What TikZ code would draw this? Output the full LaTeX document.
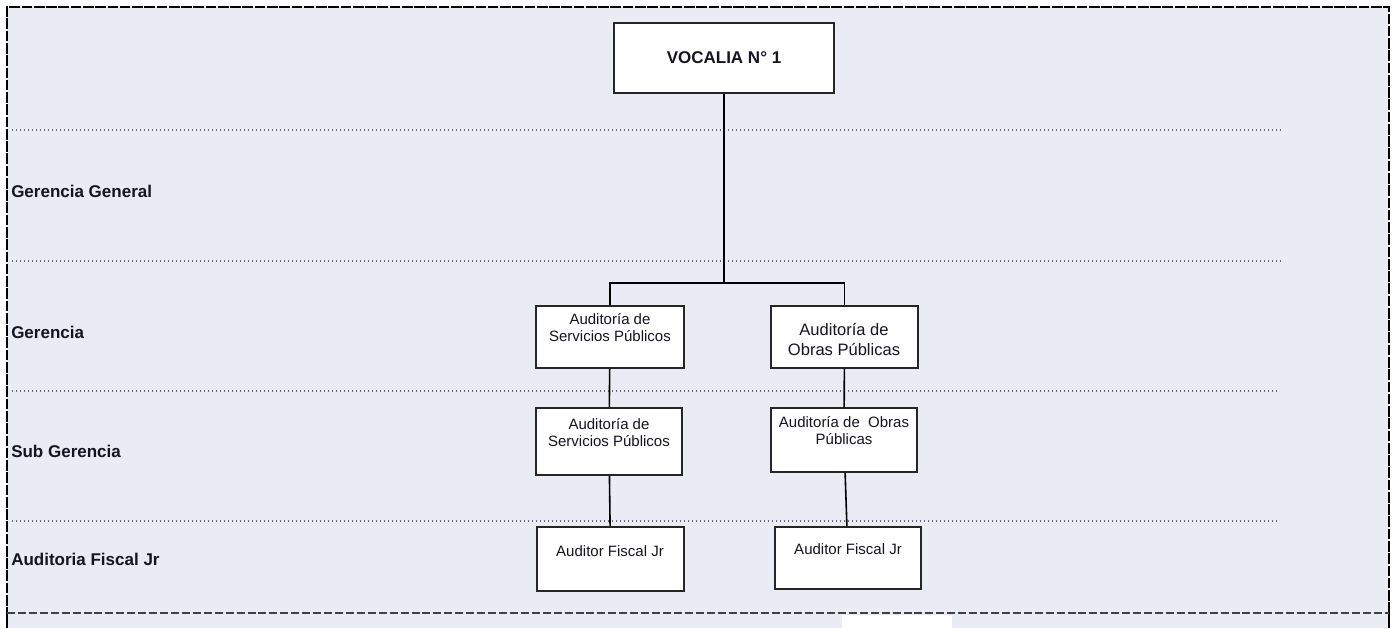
\documentclass[tikz,border=0pt]{standalone}
\usepackage{fontspec}
\setmainfont{Liberation Sans}
\usetikzlibrary{calc}
\definecolor{lav}{RGB}{233,235,245}
\definecolor{dotgray}{RGB}{100,100,125}
\definecolor{ink}{RGB}{20,20,35}
\newcommand{\lvfont}{\fontsize{12.75}{15}\selectfont\bfseries}
\newcommand{\bxfont}{\fontsize{11.25}{12.75}\selectfont}
\newcommand{\bgfont}{\fontsize{12.4}{15}\selectfont}

\begin{document}
\begin{tikzpicture}[x=0.75pt,y=-0.75pt,
      box/.style={draw=black!85,fill=white,line width=1.2pt,inner sep=0pt},
      txt/.style={inner sep=0pt,align=center,text=ink,font=\bxfont},
      level/.style={anchor=west,inner sep=0pt,text=ink,font=\lvfont},
      sep/.style={dotgray,line width=1.1pt,dash pattern=on 1.1pt off 1.9pt},
      link/.style={black,line width=1.2pt}]
      \useasboundingbox (0,0) rectangle (1395,628);
      \fill[lav] (7,7) rectangle (1389,628);
      \fill[white] (842,615) rectangle (952,628);
      \draw[line width=2.2pt,dash pattern=on 8pt off 1.2pt] (1389,613) -- (1389,7) -- (7,7) -- (7,613);
      \draw[line width=0.9pt] (7,613) -- (7,628) (1389,613) -- (1389,628);
      \draw[black!75,line width=1.6pt,dash pattern=on 6pt off 2.2pt] (7,613) -- (1389,613);

      \draw[sep] (12,130) -- (1283,130);
      \draw[sep] (12,261) -- (1283,261);
      \draw[sep] (12,391) -- (1277,391);
      \draw[sep] (12,521) -- (1277,521);

      \node[level] (l_1) at (11,191) {Gerencia General};
      \node[level] (l_2) at (11,332) {Gerencia};
      \node[level] (l_3) at (11,451) {Sub Gerencia};
      \node[level] (l_4) at (11,559) {Auditoria Fiscal Jr};

      \node[box,minimum width=165pt,minimum height=52.5pt] (voc) at (724,58) {};
      \node[box,minimum width=111pt,minimum height=46.5pt] (g_1) at (610,337) {};
      \node[box,minimum width=110.25pt,minimum height=46.5pt] (g_2) at (844.5,337) {};
      \node[box,minimum width=109.5pt,minimum height=50.25pt] (s_1) at (609,441.5) {};
      \node[box,minimum width=109.5pt,minimum height=48pt] (s_2) at (844,440) {};
      \node[box,minimum width=110.25pt,minimum height=48pt] (f_1) at (610.5,559) {};
      \node[box,minimum width=109.5pt,minimum height=46.5pt] (f_2) at (848,558) {};

      \node[txt,font=\lvfont] (voc_t) at (724,58) {VOCALIA N° 1};
      \node[txt] (g_1t) at (610,328) {Auditoría de\\Servicios Públicos};
      \node[txt,font=\bgfont] (g_2t) at (844,339) {Auditoría de\\Obras Públicas};
      \node[txt] (s_1t) at (609,433) {Auditoría de\\Servicios Públicos};
      \node[txt] (s_2t) at (844,431) {Auditoría de~~Obras\\Públicas};
      \node[txt] (f_1t) at (610,551) {Auditor Fiscal Jr};
      \node[txt] (f_2t) at (848,549) {Auditor Fiscal Jr};

      \coordinate (bar) at (724,283);
      \draw[link] (voc) -- (bar);
      \draw[link] (g_1) |- (bar) -| (g_2);
      \path[link]
      (g_1) edge (s_1)
      (g_2) edge (s_2)
      (s_1) edge (f_1)
      (s_2) edge (f_2);
\end{tikzpicture}
\end{document}
